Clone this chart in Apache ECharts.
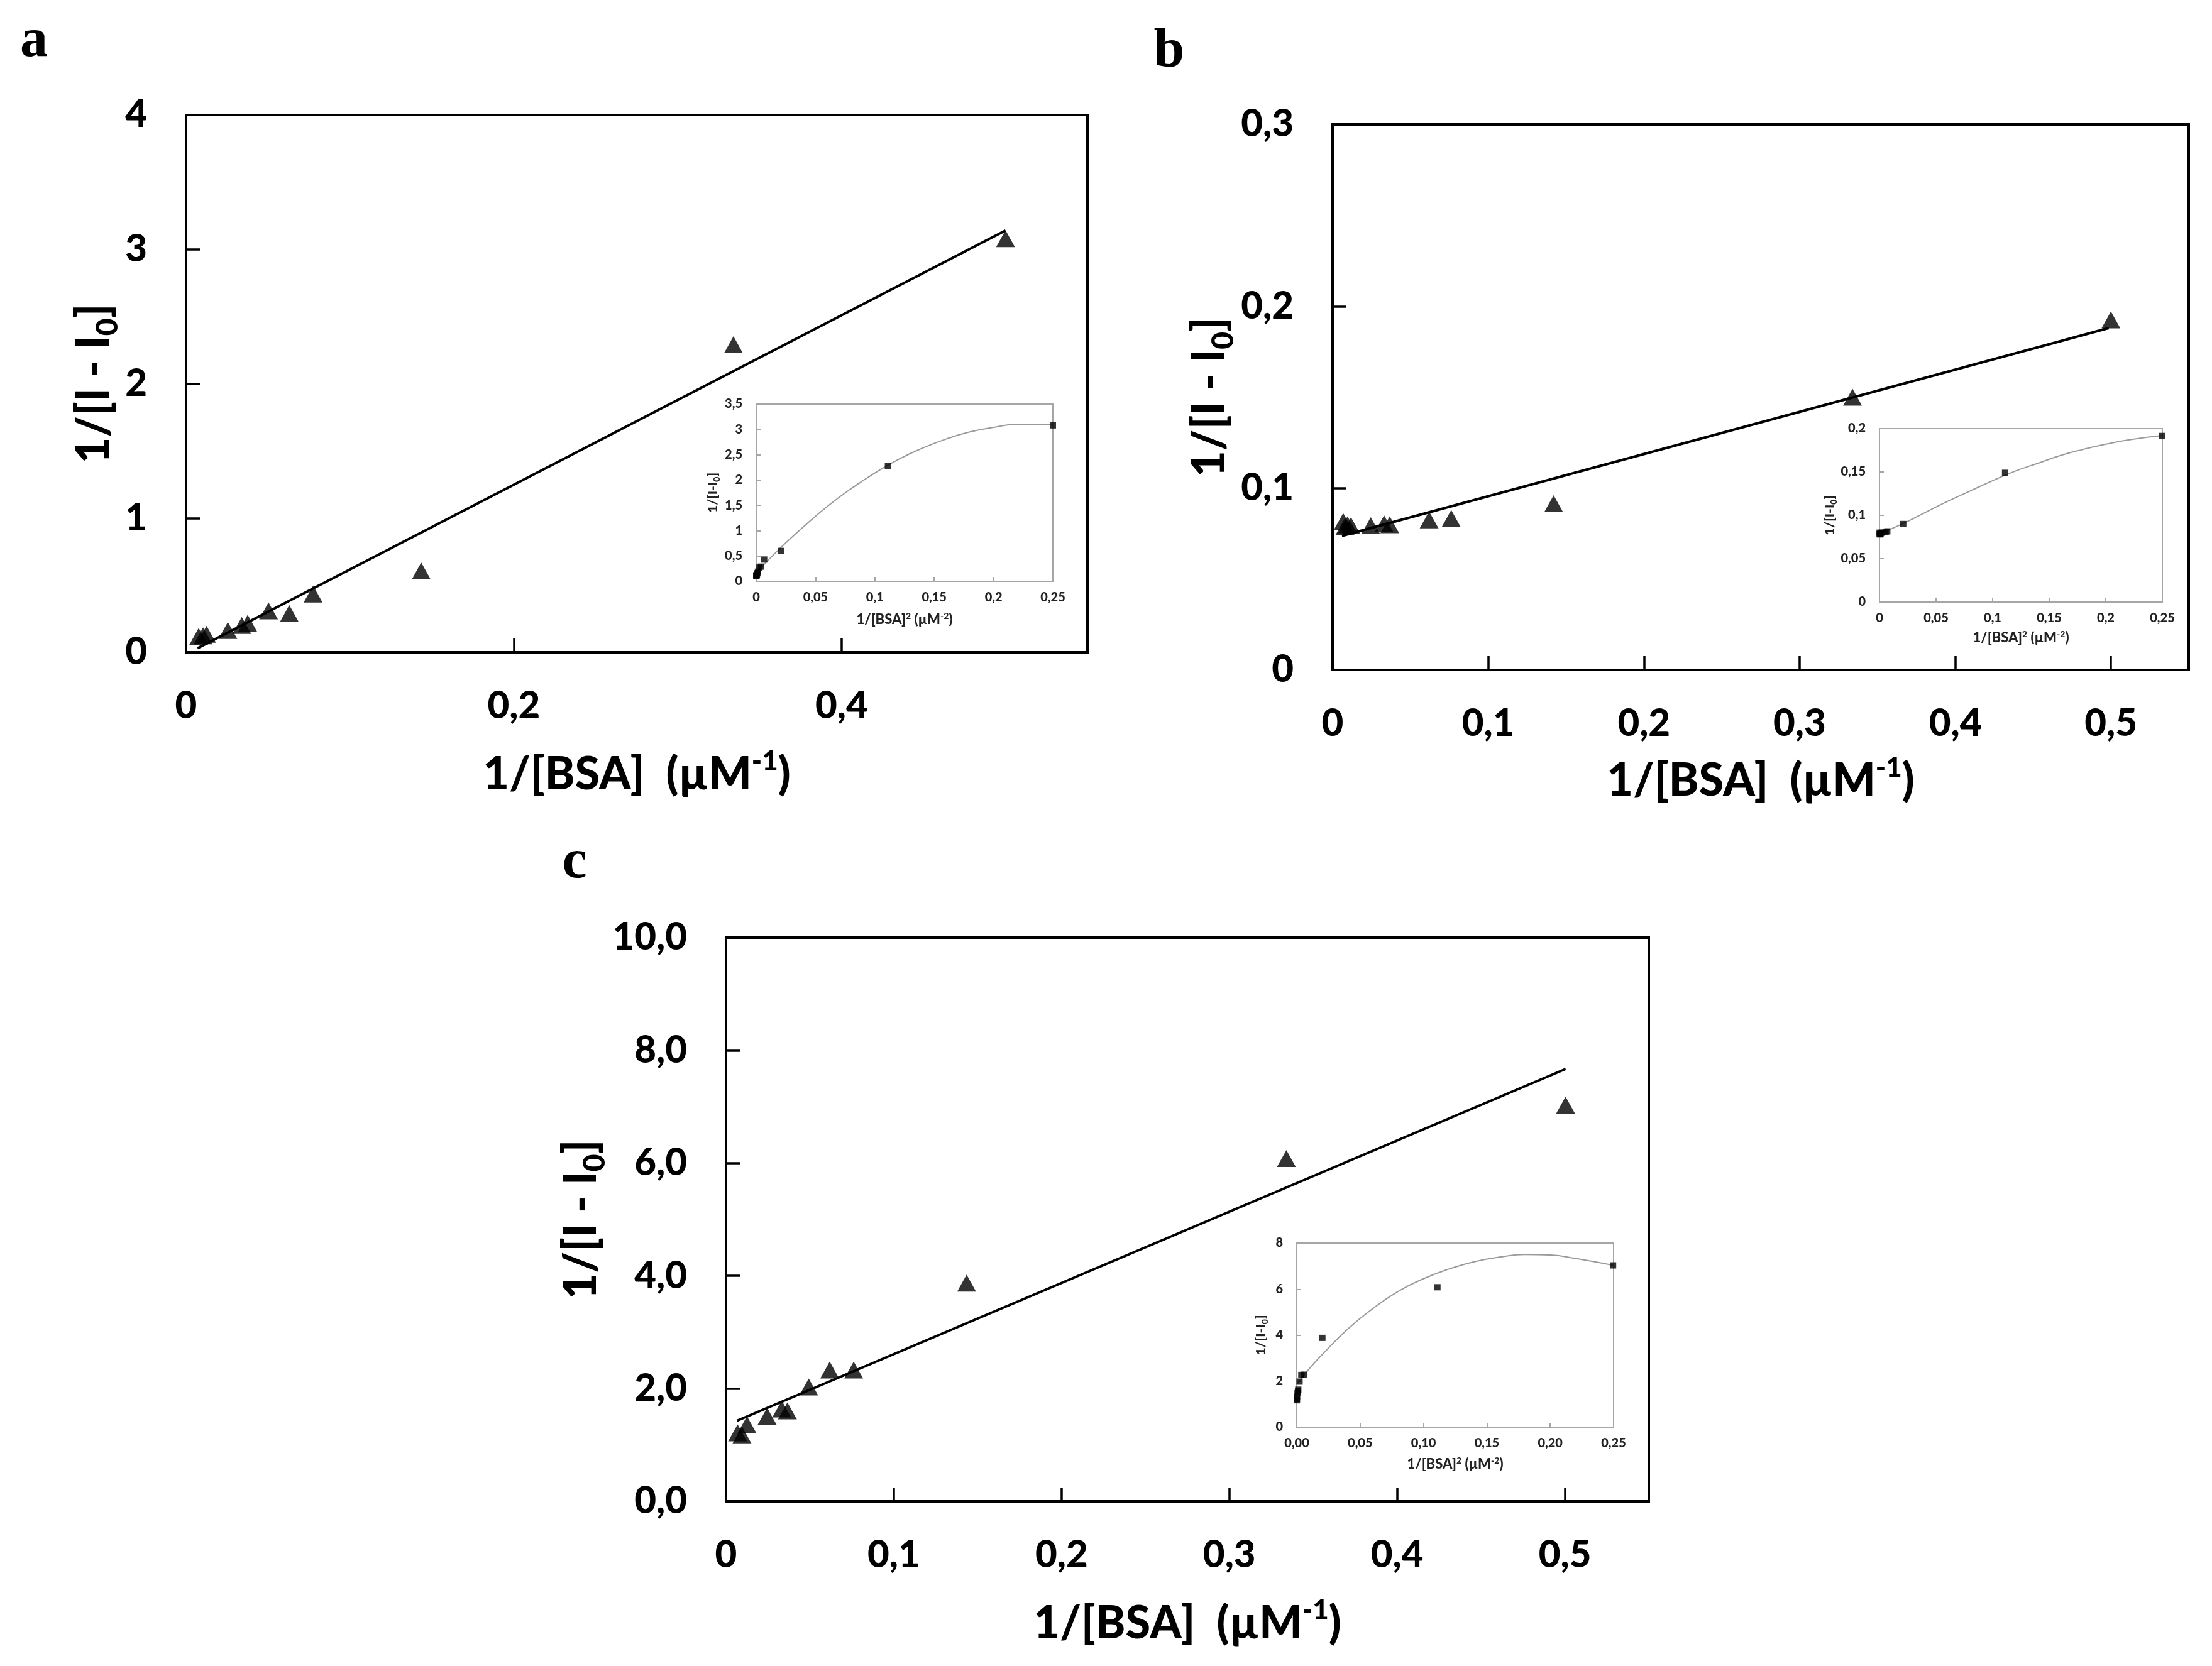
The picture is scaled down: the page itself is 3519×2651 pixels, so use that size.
<!DOCTYPE html>
<html lang="en">
<head>
    <meta charset="utf-8">
    <title>1/[I - I0] vs 1/[BSA]</title>
    <script src="https://cdn.jsdelivr.net/npm/echarts@6.0.0/dist/echarts.min.js"></script>
    <style>
        body { margin: 0; background: #fff; }
    </style>
</head>
<body>
<div id="main" style="width: 3519px;height:2651px;"></div>
<script type="text/javascript">
    // panel a : main plot
    var aX = [0.5, 0.334, 0.1435, 0.0775, 0.063, 0.0503, 0.0376, 0.034, 0.0255, 0.0125, 0.0104, 0.0077];
    var aY = [3.08, 2.29, 0.606, 0.434, 0.289, 0.309, 0.216, 0.2, 0.162, 0.134, 0.123, 0.118];
    var aFitX = [0.007, 0.5];
    var aFitY = [0.03, 3.14];
    // panel a : inset
    var aInX = [0.25, 0.111, 0.021, 0.0067, 0.004, 0.0027, 0.0015, 0.001, 0.0006, 0.0002, 0.0001, 0.0001];
    var aInY = [3.08, 2.28, 0.60, 0.43, 0.29, 0.27, 0.19, 0.16, 0.13, 0.10, 0.12, 0.11];
    var aCurveX = [0, 0.02, 0.04, 0.06, 0.08, 0.1, 0.12, 0.14, 0.16, 0.18, 0.2, 0.22, 0.25];
    var aCurveY = [0.17, 0.65, 1.08, 1.48, 1.83, 2.14, 2.41, 2.63, 2.81, 2.95, 3.04, 3.10, 3.10];

    // panel b
    var bX = [0.5, 0.334, 0.142, 0.0762, 0.062, 0.0367, 0.0331, 0.0245, 0.0118, 0.0096, 0.008, 0.0068];
    var bY = [0.1925, 0.15, 0.0914, 0.0833, 0.0825, 0.0798, 0.0804, 0.0793, 0.0793, 0.0798, 0.079, 0.0816];
    var bFitX = [0.006, 0.4986];
    var bFitY = [0.0737, 0.188];
    var bInX = [0.25, 0.111, 0.021, 0.0069, 0.0054, 0.0021, 0.001, 0.0004, 0.0002, 0.0001];
    var bInY = [0.1915, 0.149, 0.090, 0.0815, 0.081, 0.080, 0.079, 0.078, 0.080, 0.0785];
    var bCurveX = [0, 0.02, 0.04, 0.06, 0.08, 0.1, 0.12, 0.14, 0.16, 0.18, 0.2, 0.22, 0.25];
    var bCurveY = [0.079, 0.090, 0.103, 0.116, 0.128, 0.140, 0.151, 0.160, 0.169, 0.176, 0.182, 0.187, 0.192];

    // panel c
    var cX = [0.5004, 0.334, 0.1434, 0.0761, 0.0618, 0.0493, 0.0366, 0.0332, 0.0245, 0.0125, 0.0095, 0.0069];
    var cY = [7.03, 6.08, 3.87, 2.33, 2.33, 2.03, 1.605, 1.64, 1.51, 1.36, 1.18, 1.215];
    var cFitX = [0.0065, 0.5004];
    var cFitY = [1.43, 7.67];
    var cInX = [0.2496, 0.111, 0.0202, 0.0056, 0.0036, 0.0022, 0.0012, 0.001, 0.0006, 0.0002, 0.0001, 0.0001];
    var cInY = [7.03, 6.08, 3.88, 2.28, 2.27, 1.98, 1.63, 1.57, 1.48, 1.33, 1.17, 1.22];
    var cCurveX = [0, 0.01, 0.02, 0.04, 0.06, 0.08, 0.1, 0.12, 0.14, 0.16, 0.18, 0.2, 0.22, 0.25];
    var cCurveY = [1.85, 2.55, 3.15, 4.25, 5.15, 5.9, 6.45, 6.87, 7.19, 7.39, 7.5, 7.48, 7.33, 7.03];

    // axis titles
    var mainXName = '1/[BSA]  (\u00b5M{p|-1})';
    var mainYName = '1/[I - I{s|0}]';
    var inXName = '1/[BSA]{p|2} (\u00b5M{p|-2})';
    var inYName = '1/[I-I{s|0}]';

    var FONT = 'Lato, "Open Sans", sans-serif';
    var W = 900;

    function pairs(xs, ys) {
        var out = [];
        for (let i = 0; i < xs.length; i++) {
            out.push([xs[i], ys[i]]);
        }
        return out;
    }

    // decimal comma labels
    function comma(d) {
        return function (v) {
            var s = d == null ? String(+v.toFixed(6)) : v.toFixed(d);
            return s.replace('.', ',');
        };
    }

    function mainX(idx, interval, gap) {
        return {
            gridIndex: idx, type: 'value', min: 0, max: 0.55, interval: interval,
            axisLine: {show: true, lineStyle: {color: '#000', width: 4}},
            axisTick: {show: true, inside: true, length: 22, lineStyle: {color: '#000', width: 3.5}},
            axisLabel: {margin: 56, fontSize: 60, fontWeight: W, fontFamily: FONT, color: '#000',
                formatter: comma(null), showMaxLabel: false},
            splitLine: {show: false},
            name: mainXName, nameLocation: 'middle', nameGap: gap,
            nameTextStyle: {fontSize: 72, fontWeight: W, fontFamily: FONT, color: '#000',
                rich: {p: {fontSize: 44, fontWeight: W, fontFamily: FONT, color: '#000', padding: [0, 0, 42, 0]}}}
        };
    }

    function mainY(idx, max, interval, dec, gap) {
        return {
            gridIndex: idx, type: 'value', min: 0, max: max, interval: interval,
            axisLine: {show: true, lineStyle: {color: '#000', width: 4}},
            axisTick: {show: true, inside: true, length: 22, lineStyle: {color: '#000', width: 3.5}},
            axisLabel: {margin: 62, fontSize: 60, fontWeight: W, fontFamily: FONT, color: '#000',
                formatter: comma(dec)},
            splitLine: {show: false},
            name: mainYName, nameLocation: 'middle', nameRotate: 90, nameGap: gap,
            nameTextStyle: {fontSize: 72, fontWeight: W, fontFamily: FONT, color: '#000',
                rich: {s: {fontSize: 48, fontWeight: W, fontFamily: FONT, color: '#000', padding: [44, 0, 0, 0]}}}
        };
    }

    function insetX(idx, dec, gap) {
        return {
            gridIndex: idx, type: 'value', min: 0, max: 0.25, interval: 0.05,
            axisLine: {show: true, lineStyle: {color: '#a6a6a6', width: 2}},
            axisTick: {show: true, inside: true, length: 7, lineStyle: {color: '#a6a6a6', width: 2}},
            axisLabel: {margin: 16, fontSize: 20, fontWeight: W, fontFamily: FONT, color: '#222',
                formatter: comma(dec)},
            splitLine: {show: false},
            name: inXName, nameLocation: 'middle', nameGap: gap,
            nameTextStyle: {fontSize: 22, fontWeight: W, fontFamily: FONT, color: '#222',
                rich: {p: {fontSize: 14, fontWeight: W, fontFamily: FONT, color: '#222', padding: [0, 0, 12, 0]}}}
        };
    }

    function insetY(idx, max, interval, gap) {
        return {
            gridIndex: idx, type: 'value', min: 0, max: max, interval: interval,
            axisLine: {show: true, lineStyle: {color: '#a6a6a6', width: 2}},
            axisTick: {show: true, inside: true, length: 7, lineStyle: {color: '#a6a6a6', width: 2}},
            axisLabel: {margin: 22, fontSize: 20, fontWeight: W, fontFamily: FONT, color: '#222',
                formatter: comma(null)},
            splitLine: {show: false},
            name: inYName, nameLocation: 'middle', nameRotate: 90, nameGap: gap,
            nameTextStyle: {fontSize: 21, fontWeight: W, fontFamily: FONT, color: '#222',
                rich: {s: {fontSize: 14, fontWeight: W, fontFamily: FONT, color: '#222', padding: [12, 0, 0, 0]}}}
        };
    }

    function triangles(idx, xs, ys) {
        return {type: 'scatter', xAxisIndex: idx, yAxisIndex: idx, symbol: 'triangle', symbolSize: [30, 27],
            itemStyle: {color: '#000'}, data: pairs(xs, ys), z: 3};
    }

    function fitLine(idx, xs, ys) {
        return {type: 'line', xAxisIndex: idx, yAxisIndex: idx, symbol: 'none',
            lineStyle: {color: '#000', width: 4}, data: pairs(xs, ys), z: 2};
    }

    function squares(idx, xs, ys) {
        return {type: 'scatter', xAxisIndex: idx, yAxisIndex: idx, symbol: 'rect', symbolSize: 10,
            itemStyle: {color: '#000'}, data: pairs(xs, ys), z: 4};
    }

    function curve(idx, xs, ys) {
        return {type: 'line', xAxisIndex: idx, yAxisIndex: idx, symbol: 'none', smooth: true,
            lineStyle: {color: '#9a9a9a', width: 2}, data: pairs(xs, ys), z: 3};
    }

    var mainGrid = {show: true, borderColor: '#000', borderWidth: 4, backgroundColor: 'transparent'};
    var inGrid = {show: true, borderColor: '#a6a6a6', borderWidth: 2, backgroundColor: '#fff'};

    function letter(t, x, y) {
        return {type: 'text', x: x, y: y, z: 10,
            style: {text: t, fontSize: 88, fontWeight: 'bold', fontFamily: '"Liberation Serif", serif', fill: '#000',
                align: 'center', verticalAlign: 'middle', textAlign: 'center', textVerticalAlign: 'middle'}};
    }

    var myChart = echarts.init(document.getElementById('main'));
    var option = {
        backgroundColor: '#fff',
        animation: false,
        grid: [
            Object.assign({left: 296, top: 183, width: 1434, height: 855}, mainGrid),
            Object.assign({left: 2120, top: 198, width: 1362, height: 868}, mainGrid),
            Object.assign({left: 1155, top: 1492, width: 1468, height: 897}, mainGrid),
            Object.assign({left: 1203, top: 643, width: 472, height: 282}, inGrid),
            Object.assign({left: 2990, top: 682, width: 450, height: 276}, inGrid),
            Object.assign({left: 2063, top: 1978, width: 504, height: 293}, inGrid)
        ],
        xAxis: [
            mainX(0, 0.2, 152),
            mainX(1, 0.1, 134),
            mainX(2, 0.1, 152),
            insetX(3, null, 48),
            insetX(4, null, 44),
            insetX(5, 2, 46)
        ],
        yAxis: [
            mainY(0, 4, 1, null, 100),
            mainY(1, 0.3, 0.1, null, 142),
            mainY(2, 10, 2, 1, 169),
            insetY(3, 3.5, 0.5, 56),
            insetY(4, 0.2, 0.05, 60),
            insetY(5, 8, 2, 44)
        ],
        series: [
            fitLine(0, aFitX, aFitY),
            triangles(0, aX, aY),
            fitLine(1, bFitX, bFitY),
            triangles(1, bX, bY),
            fitLine(2, cFitX, cFitY),
            triangles(2, cX, cY),
            curve(3, aCurveX, aCurveY),
            squares(3, aInX, aInY),
            curve(4, bCurveX, bCurveY),
            squares(4, bInX, bInY),
            curve(5, cCurveX, cCurveY),
            squares(5, cInX, cInY)
        ],
        graphic: [
            letter('a', 54, 66),
            letter('b', 1860, 83),
            letter('c', 914, 1373)
        ]
    };
    myChart.setOption(option);
</script>
</body>
</html>
